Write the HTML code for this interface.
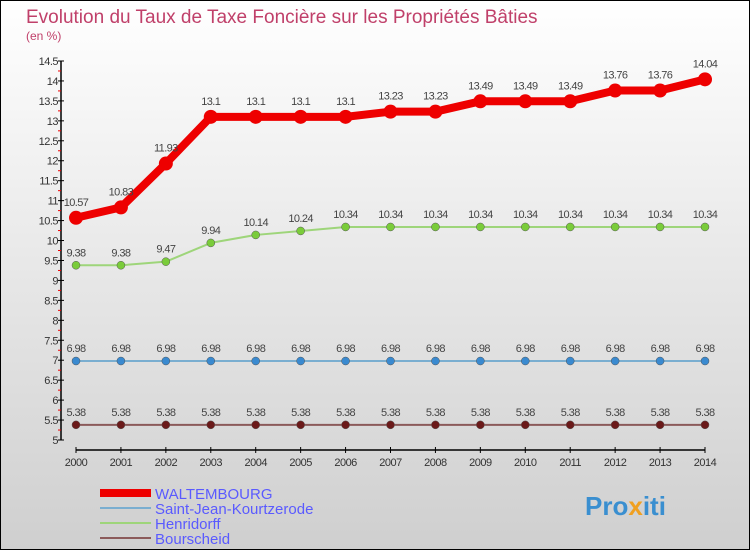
<!DOCTYPE html>
<html><head><meta charset="utf-8">
<style>
body{margin:0}
#c{width:750px;height:550px;position:relative;overflow:hidden}
svg text{font-family:"Liberation Sans",sans-serif}
</style></head>
<body>
<div id="c">
<svg id="s" width="750" height="550" xmlns="http://www.w3.org/2000/svg">
<defs><linearGradient id="bg" x1="0" y1="0" x2="0" y2="1"><stop offset="0" stop-color="#ffffff"/><stop offset="1" stop-color="#cfcfcf"/></linearGradient></defs>
<rect x="0.5" y="0.5" width="749" height="549" fill="url(#bg)" stroke="#000"/>
<text x="26" y="23" font-size="19" fill="#c0406a">Evolution du Taux de Taxe Foncière sur les Propriétés Bâties</text>
<text x="26" y="40" font-size="12" fill="#c0406a">(en %)</text>
<g id="axes"></g><g id="series"></g>
<g>
<line x1="100" y1="493" x2="151" y2="493" stroke="#ee0000" stroke-width="8"/>
<text x="155" y="499" font-size="15" fill="#5a5aff">WALTEMBOURG</text>
<line x1="100" y1="508" x2="151" y2="508" stroke="#7aaed0" stroke-width="2"/>
<text x="155" y="514" font-size="15" fill="#5a5aff">Saint-Jean-Kourtzerode</text>
<line x1="100" y1="523" x2="151" y2="523" stroke="#9ed57a" stroke-width="2"/>
<text x="155" y="529" font-size="15" fill="#5a5aff">Henridorff</text>
<line x1="100" y1="538" x2="151" y2="538" stroke="#8b5a5a" stroke-width="2"/>
<text x="155" y="544" font-size="15" fill="#5a5aff">Bourscheid</text>
</g>
<text x="585" y="515" font-size="26" font-weight="bold" fill="#3a8fd0">Pro<tspan fill="#f0a020">x</tspan>iti</text>
</svg>
</div>
<script>
const years=[2000,2001,2002,2003,2004,2005,2006,2007,2008,2009,2010,2011,2012,2013,2014];
const yTicks=[5,5.5,6,6.5,7,7.5,8,8.5,9,9.5,10,10.5,11,11.5,12,12.5,13,13.5,14,14.5];
const waltembourg=[10.57,10.83,11.93,13.1,13.1,13.1,13.1,13.23,13.23,13.49,13.49,13.49,13.76,13.76,14.04];
const saintJean=[6.98,6.98,6.98,6.98,6.98,6.98,6.98,6.98,6.98,6.98,6.98,6.98,6.98,6.98,6.98];
const henridorff=[9.38,9.38,9.47,9.94,10.14,10.24,10.34,10.34,10.34,10.34,10.34,10.34,10.34,10.34,10.34];
const bourscheid=[5.38,5.38,5.38,5.38,5.38,5.38,5.38,5.38,5.38,5.38,5.38,5.38,5.38,5.38,5.38];
const NS="http://www.w3.org/2000/svg";
const X=i=>76+i*(629/(years.length-1));
const Y=v=>440-(v-5)*(379/9.5);
function mk(tag,attrs,parent){const e=document.createElementNS(NS,tag);for(const k in attrs)e.setAttribute(k,attrs[k]);parent.appendChild(e);return e;}
const ax=document.getElementById('axes');
const yl=mk('line',{x1:61,y1:Y(14.5),x2:61,y2:Y(5),stroke:'#000','stroke-width':1.5},ax);


yTicks.forEach(t=>{
 const major=Math.abs(t*2%2)<0.01||true;
 const tk=mk('line',{x1:58,y1:Y(t),x2:64,y2:Y(t),stroke:'#000'},ax);
 
 
 const lb=mk('text',{x:58,y:Y(t)+4,'font-size':11,'text-anchor':'end',fill:'#333','letter-spacing':'-0.5'},ax);
 lb.textContent=String(t);
 
 
 if(t<14.5){const m=mk('line',{x1:58,y1:Y(t+0.25),x2:61,y2:Y(t+0.25),stroke:'#e00'},ax);
 
 }
});
const xl=mk('line',{x1:76,y1:450,x2:705,y2:450,stroke:'#000','stroke-width':1.5},ax);


years.forEach((y,i)=>{
 const tk=mk('line',{x1:X(i),y1:447,x2:X(i),y2:453,stroke:'#000'},ax);
 
 
 const lb=mk('text',{x:X(i),y:466,'font-size':11,'text-anchor':'middle',fill:'#333','letter-spacing':'-0.5'},ax);
 lb.textContent=String(y);
 
 
});
const sg=document.getElementById('series');
function series(vals,name,color,lw,r,dot){
 const g=mk('g',{},sg);
 
 
 const pl=mk('polyline',{points:vals.map((v,i)=>X(i)+','+Y(v)).join(' '),fill:'none',stroke:color,'stroke-width':lw,'stroke-linejoin':'round'},g);
 
 
 vals.forEach((v,i)=>{
  const c=mk('circle',{cx:X(i),cy:Y(v),r:r,fill:dot,stroke:dot==='#ee0000'?'none':'#555','stroke-width':0.5},g);
  
  
  const t=mk('text',{x:X(i),y:Y(v)-(r+5),'font-size':11,'text-anchor':'middle',fill:'#444','letter-spacing':'-0.6'},g);
  t.textContent=String(v);
  
  
 });
}
series(bourscheid,'bourscheid','#8b5a5a',2,4,'#6b1a1a');
series(saintJean,'saint-jean','#7aaed0',2,4,'#3a8ad0');
series(henridorff,'henridorff','#9ed57a',2,4,'#7acc3a');
series(waltembourg,'waltembourg','#ee0000',8,7,'#ee0000');
</script>
</body></html>
